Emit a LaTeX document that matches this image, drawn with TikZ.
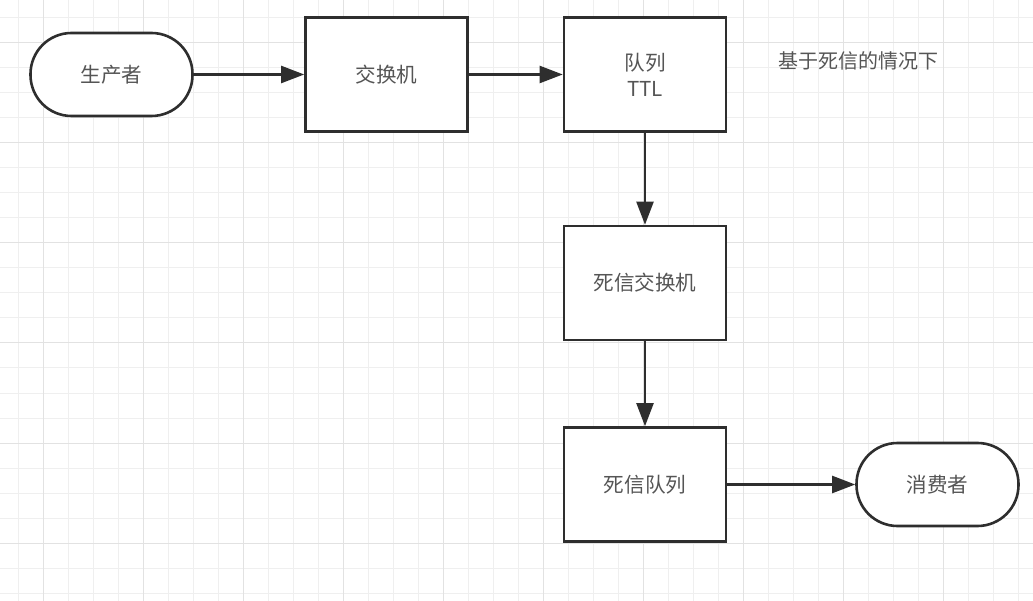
\documentclass[tikz,border=0pt]{standalone}
\usepackage{fontspec}
\newfontfamily\cjk{Noto Sans CJK SC}
\usetikzlibrary{arrows.meta}
\definecolor{gridminor}{HTML}{EFEFEF}
\definecolor{gridmajor}{HTML}{E2E2E2}
\definecolor{edge}{HTML}{2E2E2E}
\definecolor{txt}{HTML}{555555}
\tikzset{
  box/.style={draw=edge, line width=2.6pt, fill=white, minimum width=162pt, minimum height=114pt,
    inner sep=0pt, text=txt, font=\cjk\fontsize{20.6pt}{26pt}\selectfont, align=center},
  term/.style={box, rounded corners=41pt, minimum height=83pt},
  flow/.style={draw=edge, line width=2.2pt, -{Triangle[length=23pt,width=17pt]}},
  label/.style={text=txt, font=\cjk\fontsize{20pt}{26pt}\selectfont, inner sep=0pt}
}
\begin{document}
\begin{tikzpicture}[x=1pt,y=-1pt]
\useasboundingbox (0,0) rectangle (1033,601);
\fill[white] (0,0) rectangle (1033,601);
% grid
\foreach \k in {0,...,41} {
  \draw[gridminor, line width=1pt] ({18+25*\k},0) -- ({18+25*\k},601);
}
\foreach \k in {0,...,23} {
  \draw[gridminor, line width=1pt] (0,{18+25*\k}) -- (1033,{18+25*\k});
}
\foreach \k in {0,...,9} {
  \draw[gridmajor, line width=1pt] ({43+100*\k},0) -- ({43+100*\k},601);
}
\foreach \k in {0,...,5} {
  \draw[gridmajor, line width=1pt] (0,{43+100*\k}) -- (1033,{43+100*\k});
}
% nodes
\node[term] (producer) at (111.5,74.5) {生产者};
\node[box] (exchange) at (386.5,74.5) {交换机};
\node[box] (queue) at (645,74.5) {队列\\TTL};
\node[box] (dlx) at (645,283) {死信交换机};
\node[box] (dlq) at (645,484.5) {死信队列};
\node[term] (consumer) at (937.5,484.5) {消费者};
\node[label] (note) at (858,61) {基于死信的情况下};
% connectors
\draw[flow] (producer) -- (exchange);
\draw[flow] (exchange) -- (queue);
\draw[flow] (queue) -- (dlx);
\draw[flow] (dlx) -- (dlq);
\draw[flow] (dlq) -- (consumer);
\end{tikzpicture}
\end{document}
